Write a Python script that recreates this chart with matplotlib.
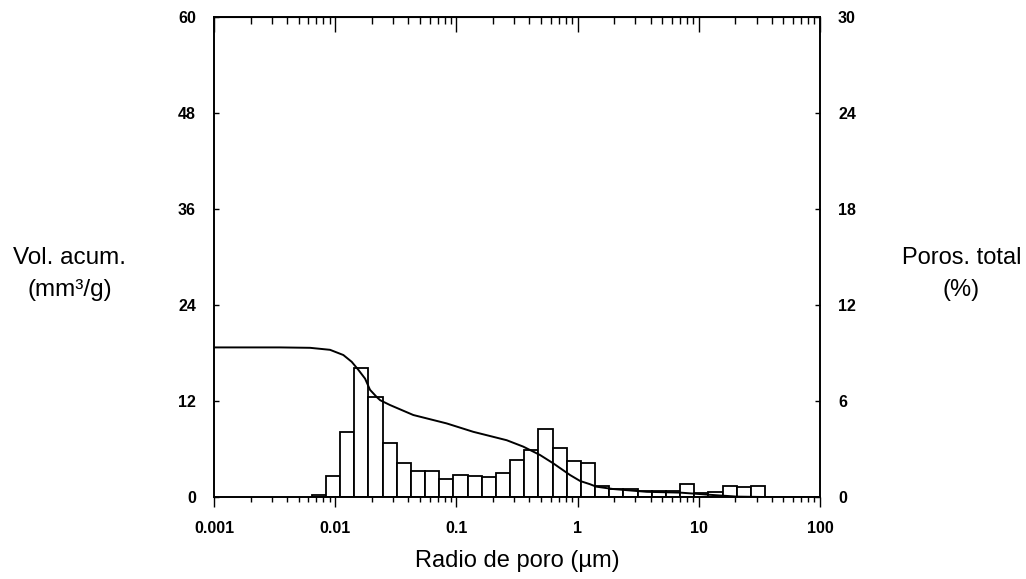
import numpy as np
import matplotlib
matplotlib.use('Agg')
import matplotlib.pyplot as plt
from matplotlib.ticker import FixedLocator, LogLocator, NullFormatter

plt.rcParams['font.family'] = ['Liberation Sans', 'DejaVu Sans']

# pore-radius bin edges (um) of the histogram
bin_edges = [0.0064, 0.00838, 0.01096, 0.01435, 0.01879, 0.02458, 0.03217,
             0.0421, 0.0551, 0.07212, 0.09441, 0.1235, 0.1617, 0.2117,
             0.2771, 0.3627, 0.4747, 0.6213, 0.8132, 1.064, 1.393, 1.823,
             2.387, 3.124, 4.089, 5.352, 7.005, 9.17, 12.0, 15.71, 20.56,
             26.91, 35.23]
# porosity per interval (%) - right axis
poros = [0.12, 1.3, 4.05, 8.05, 6.25, 3.35, 2.15, 1.6, 1.6, 1.15, 1.35, 1.3,
         1.25, 1.5, 2.3, 2.95, 4.25, 3.05, 2.25, 2.1, 0.7, 0.5, 0.5, 0.4,
         0.35, 0.4, 0.8, 0.25, 0.3, 0.7, 0.65, 0.7]

# cumulative volume curve (mm3/g) - left axis
radio = [0.001, 0.0035, 0.0062, 0.00906, 0.01167, 0.01368, 0.01552, 0.01763,
         0.01937, 0.022, 0.0235, 0.0283, 0.0441, 0.0831, 0.1378, 0.26,
         0.356, 0.49, 0.631, 0.866, 1.05, 1.266, 1.42, 1.96, 3.72,
         7.0, 13.1, 20.6, 35.0, 100.0]
vol_acum = [18.7, 18.7, 18.65, 18.4, 17.75, 16.9, 15.9, 14.8, 13.4, 12.5,
            12.1, 11.5, 10.25, 9.2, 8.15, 7.1, 6.3, 5.25, 4.2, 2.75, 2.0,
            1.6, 1.3, 1.0, 0.65, 0.55, 0.25, 0.05, 0.0, 0.0]

x_ticks = [0.001, 0.01, 0.1, 1, 10, 100]
x_labels = ['0.001', '0.01', '0.1', '1', '10', '100']
yl_ticks = [0, 12, 24, 36, 48, 60]
yr_ticks = [0, 6, 12, 18, 24, 30]

fig = plt.figure(figsize=(10.26, 5.79), dpi=100)
ax = fig.add_axes([0.2086, 0.1416, 0.5906, 0.829])
ax2 = ax.twinx()
ax.set_zorder(ax2.get_zorder() + 1)
ax.patch.set_visible(False)

# histogram bars on the right axis
edges = np.array(bin_edges)
ax2.bar(edges[:-1], poros, width=np.diff(edges), align='edge',
        facecolor='white', edgecolor='black', linewidth=1.3)

# cumulative curve on the left axis
ax.plot(radio, vol_acum, color='black', linewidth=1.4)

ax.set_xscale('log')
ax.set_xlim(0.001, 100)
ax.set_ylim(0, 60)
ax2.set_ylim(0, 30)

tick_font = dict(fontsize=11.5, fontweight='bold')
ax.xaxis.set_major_locator(FixedLocator(x_ticks))
ax.set_xticklabels(x_labels, **tick_font)
ax.xaxis.set_minor_locator(LogLocator(base=10, subs=np.arange(2, 10), numticks=20))
ax.xaxis.set_minor_formatter(NullFormatter())
ax.set_yticks(yl_ticks)
ax.set_yticklabels([str(v) for v in yl_ticks], **tick_font)
ax2.set_yticks(yr_ticks)
ax2.set_yticklabels([str(v) for v in yr_ticks], **tick_font)

ax.tick_params(axis='x', which='major', direction='out', length=7, width=1,
               pad=10, bottom=True, top=False)
ax.tick_params(axis='x', which='minor', direction='out', length=3.5, width=1,
               bottom=True, top=False)
ax.tick_params(axis='y', which='major', direction='in', length=3.5, width=1, pad=13)
ax2.tick_params(axis='y', which='major', direction='in', length=3.5, width=1, pad=13)

# top ticks hang inward from the top spine
top = ax.secondary_xaxis('top')
top.xaxis.set_major_locator(FixedLocator(x_ticks))
top.xaxis.set_minor_locator(LogLocator(base=10, subs=np.arange(2, 10), numticks=20))
top.xaxis.set_major_formatter(NullFormatter())
top.xaxis.set_minor_formatter(NullFormatter())
top.tick_params(which='major', direction='in', length=11, width=1)
top.tick_params(which='minor', direction='in', length=5, width=1)

for sp in list(ax.spines.values()) + list(ax2.spines.values()):
    sp.set_linewidth(1.2)

ax.set_xlabel('Radio de poro (\u00b5m)', fontsize=17, labelpad=10)
fig.text(0.068, 1 - 274 / 579, 'Vol. acum.\n(mm\u00b3/g)', fontsize=17.5,
         ha='center', va='center', linespacing=1.6)
fig.text(0.937, 1 - 274 / 579, 'Poros. total\n(%)', fontsize=17,
         ha='center', va='center', linespacing=1.6)

fig.savefig('out.png', dpi=100)
